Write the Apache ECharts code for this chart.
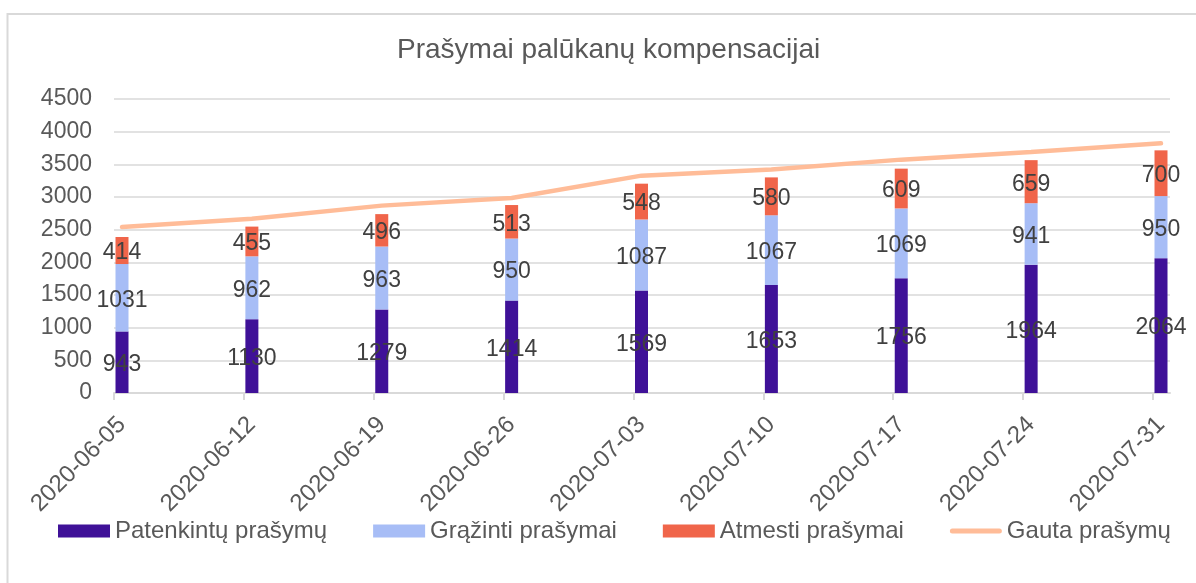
<!DOCTYPE html>
<html>
<head>
    <meta charset="utf-8">
    <title>ECharts</title>
    <script src="https://cdn.jsdelivr.net/npm/echarts@6/dist/echarts.min.js"></script>
    <style>
        html, body { margin: 0; padding: 0; background: #fff; }
    </style>
</head>
<body>
    <div id="main" style="width: 1196px;height:583px;"></div>
    <script type="text/javascript">
// duomenys
var dates = ['2020-06-05', '2020-06-12', '2020-06-19', '2020-06-26', '2020-07-03',
             '2020-07-10', '2020-07-17', '2020-07-24', '2020-07-31'];
var patenkinti = [943, 1130, 1279, 1414, 1569, 1653, 1756, 1964, 2064];
var grazinti   = [1031, 962, 963, 950, 1087, 1067, 1069, 941, 950];
var atmesti    = [414, 455, 496, 513, 548, 580, 609, 659, 700];
var gauta      = [2540, 2668, 2868, 2985, 3327, 3420, 3572, 3690, 3822];
var yTicks     = [0, 500, 1000, 1500, 2000, 2500, 3000, 3500, 4000, 4500];

var FONT = 'Liberation Sans';
// žymės ties i, tekstas ir stulpeliai ~8px dešiniau (kaip Excel)
var off = 0.0616;
var tickIdx = dates.map(function (d, i) { return i; });
var labelIdx = dates.map(function (d, i) { return i + off; });

var myChart = echarts.init(document.getElementById('main'));

var barLabel = {
    show: true,
    position: 'inside',
    offset: [0, 2.5],
    fontFamily: FONT,
    fontSize: 23,
    color: '#404040'
};

option = {
    animation: false,
    textStyle: { fontFamily: FONT },
    graphic: [{
        type: 'rect',
        z: -10,
        shape: { x: 7.5, y: 14, width: 1300, height: 700 },
        style: { fill: 'none', stroke: '#D9D9D9', lineWidth: 2 }
    }],
    title: {
        text: 'Prašymai palūkanų kompensacijai',
        left: 397,
        top: 36,
        padding: 0,
        textStyle: { fontFamily: FONT, fontSize: 28, fontWeight: 'normal', color: '#595959' }
    },
    // grid 0 = matomos ašys, grid 1 = duomenys
    grid: [
        { left: 114, right: 26, top: 99, bottom: 190 },
        { left: 122, right: 35, top: 99, bottom: 190 }
    ],
    legend: {
        left: 58,
        top: 519,
        padding: 0,
        itemWidth: 52,
        itemHeight: 13,
        itemGap: 46,
        textStyle: { fontFamily: FONT, fontSize: 24, color: '#595959' },
        data: [
            { name: 'Patenkintų prašymų', icon: 'rect' },
            { name: 'Grąžinti prašymai', icon: 'rect' },
            { name: 'Atmesti prašymai', icon: 'rect' },
            { name: 'Gauta prašymų',
              icon: 'path://M0,0 L0,13 M2.5,4 L49.5,4 A2.5,2.5 0 0 1 49.5,9 L2.5,9 A2.5,2.5 0 0 1 2.5,4 Z' }
        ]
    },
    xAxis: [{
        gridIndex: 0,
        type: 'value',
        min: 0,
        max: 8.131,
        splitLine: { show: false },
        axisLine: { show: true, onZero: false, lineStyle: { color: '#D9D9D9', width: 2 } },
        axisTick: {
            show: true,
            length: 7,
            lineStyle: { color: '#D9D9D9', width: 2 },
            customValues: tickIdx
        },
        axisLabel: {
            rotate: 45,
            margin: 28,
            fontFamily: FONT,
            fontSize: 24,
            color: '#595959',
            customValues: labelIdx,
            formatter: function (value) {
                return dates[Math.round(value)] || '';
            }
        }
    }, {
        gridIndex: 1,
        type: 'category',
        boundaryGap: false,
        data: dates,
        show: false
    }],
    yAxis: [{
        gridIndex: 0,
        type: 'value',
        min: yTicks[0],
        max: yTicks[yTicks.length - 1],
        interval: 500,
        axisLine: { show: false },
        axisTick: { show: false },
        splitLine: { lineStyle: { color: '#D9D9D9', width: 1.5 } },
        axisLabel: {
            margin: 22, fontFamily: FONT, fontSize: 23, color: '#595959',
            formatter: function (v) { return String(v); }
        }
    }, {
        gridIndex: 1,
        type: 'value',
        min: yTicks[0],
        max: yTicks[yTicks.length - 1],
        interval: 500,
        show: false,
        splitLine: { show: false }
    }],
    series: [{
        name: 'Patenkintų prašymų',
        type: 'bar',
        xAxisIndex: 1, yAxisIndex: 1,
        stack: 'viso',
        barWidth: 13,
        clip: false,
        itemStyle: { color: '#3F1198' },
        label: barLabel,
        data: patenkinti
    }, {
        name: 'Grąžinti prašymai',
        type: 'bar',
        xAxisIndex: 1, yAxisIndex: 1,
        stack: 'viso',
        barWidth: 13,
        clip: false,
        itemStyle: { color: '#A7BDF6' },
        label: barLabel,
        data: grazinti
    }, {
        name: 'Atmesti prašymai',
        type: 'bar',
        xAxisIndex: 1, yAxisIndex: 1,
        stack: 'viso',
        barWidth: 13,
        clip: false,
        itemStyle: { color: '#F0654A' },
        label: barLabel,
        data: atmesti
    }, {
        name: 'Gauta prašymų',
        type: 'line',
        xAxisIndex: 1, yAxisIndex: 1,
        symbol: 'none',
        clip: false,
        lineStyle: { color: '#FFBC98', width: 4.5, cap: 'round' },
        itemStyle: { color: '#FFBC98' },
        data: gauta
    }]
};

myChart.setOption(option);
    </script>
</body>
</html>
